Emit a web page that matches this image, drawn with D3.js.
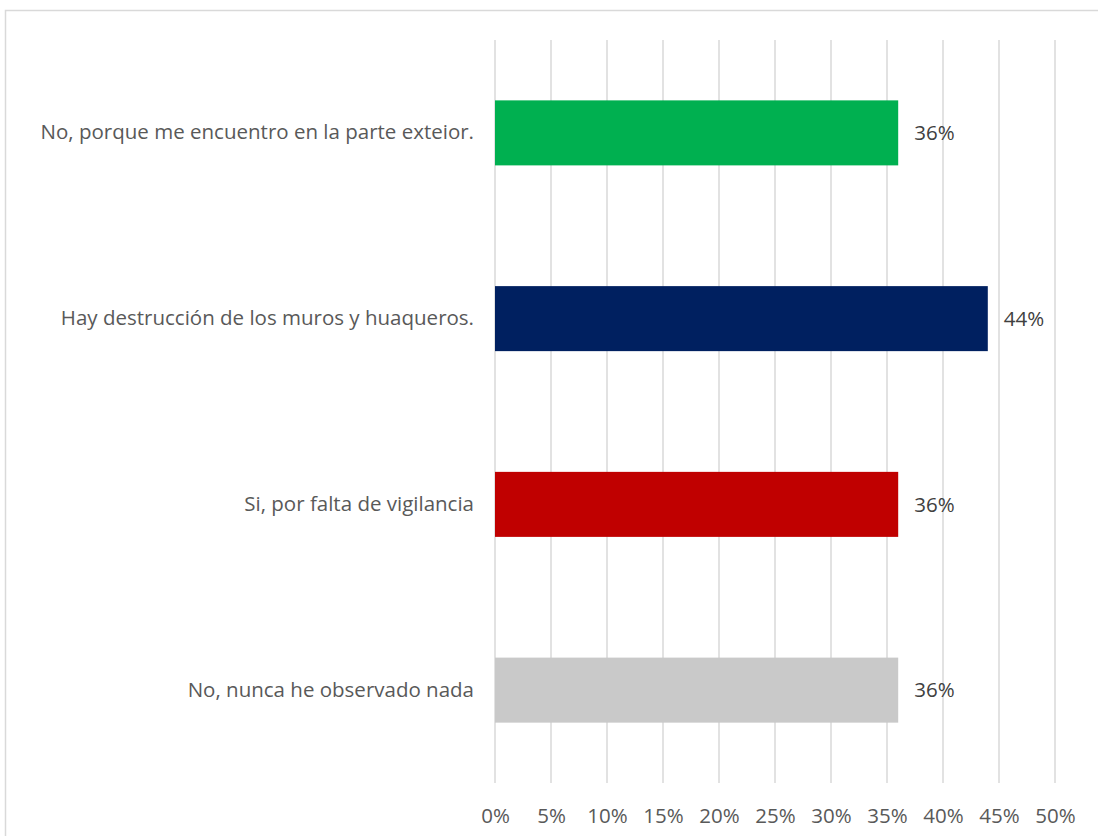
<!DOCTYPE html>
<html><head><meta charset="utf-8">
<script src="https://cdn.jsdelivr.net/npm/d3@7"></script>
<style>body{margin:0;background:#fff;} svg{display:block;}</style>
</head><body>
<script>
const categories = ["No, porque me encuentro en la parte exteior.", "Hay destrucción de los muros y huaqueros.", "Si, por falta de vigilancia", "No, nunca he observado nada"];
const values = [0.36, 0.44, 0.36, 0.36];
const colors = ["#00B050", "#002060", "#C00000", "#C9C9C9"];
const tickValues = [0, 0.05, 0.10, 0.15, 0.20, 0.25, 0.30, 0.35, 0.40, 0.45, 0.50];

const W = 1098, H = 836;
const font = "'Open Sans', 'Noto Sans', sans-serif";
const fs = 20.5;
const svg = d3.select("body").append("svg").attr("width", W).attr("height", H);

svg.append("rect").attr("x", 5.5).attr("y", 10.5).attr("width", W + 10).attr("height", H + 10)
  .attr("fill", "#fff").attr("stroke", "#D9D9D9").attr("stroke-width", 1.5);

const x = d3.scaleLinear().domain([0, 0.5]).range([495, 1055]);
const y = d3.scaleBand().domain(categories).range([40, 783]).paddingInner(0.65).paddingOuter(0.325);

// gridlines
svg.append("g").selectAll("line").data(tickValues).join("line")
  .attr("x1", d => x(d)).attr("x2", d => x(d)).attr("y1", 40).attr("y2", 783)
  .attr("stroke", "#D9D9D9").attr("stroke-width", 1.5);

// x axis
const xa = svg.append("g").attr("transform", "translate(0,783)")
  .call(d3.axisBottom(x).tickValues(tickValues).tickFormat(d3.format(".0%")).tickSize(0).tickPadding(25));
xa.select(".domain").remove();
xa.selectAll("text").attr("font-family", font).attr("font-size", fs).attr("fill", "#595959");

// bars
svg.append("g").selectAll("rect").data(categories).join("rect")
  .attr("x", x(0)).attr("y", d => y(d)).attr("height", y.bandwidth())
  .attr("width", (d, i) => x(values[i]) - x(0)).attr("fill", (d, i) => colors[i]);

// value labels
svg.append("g").selectAll("text").data(categories).join("text")
  .attr("x", (d, i) => x(values[i]) + 16).attr("y", d => y(d) + y.bandwidth() / 2)
  .attr("dy", "0.35em").attr("font-family", font).attr("font-size", fs).attr("fill", "#404040")
  .text((d, i) => Math.round(values[i] * 100) + "%");

// category axis
const ya = svg.append("g").attr("transform", "translate(495,0)")
  .call(d3.axisLeft(y).tickSize(0).tickPadding(21));
ya.select(".domain").remove();
ya.selectAll("text").attr("font-family", font).attr("font-size", fs).attr("fill", "#595959");
</script>
</body></html>
